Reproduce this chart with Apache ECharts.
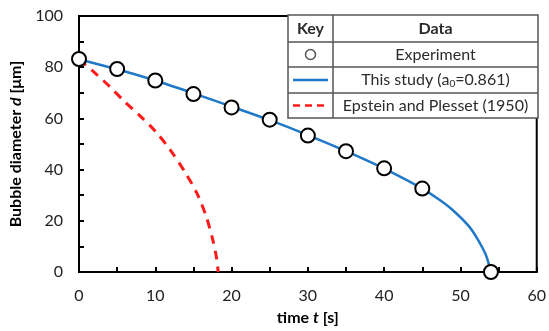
<!DOCTYPE html>
<html>
<head>
<meta charset="utf-8">
<script src="https://cdn.jsdelivr.net/npm/echarts@6/dist/echarts.min.js"></script>
<style>html,body{margin:0;padding:0;background:#fff;}#c{width:549px;height:331px;}</style>
</head>
<body>
<div id="c"></div>
<script>
// Experiment data
const expT = [0, 5, 10, 15, 20, 25, 30, 35, 40, 45, 54];
const expD = [83.2, 79.3, 74.8, 69.5, 64.3, 59.5, 53.3, 47.2, 40.5, 32.6, 0];
// This study (a0 = 0.861)
const studyT = [0, 5, 10, 15, 20, 25, 30, 35, 40, 45, 47.2, 48.9, 51.1, 52.4, 53.3, 53.8, 54];
const studyD = [83, 79.2, 74.8, 69.8, 64.6, 59.3, 53.5, 47.2, 40.4, 32.6, 28.3, 24.4, 17.9, 12.1, 6.9, 2.3, 0];
// Epstein and Plesset (1950)
const epT = [0, 2, 4, 6, 8, 10, 12, 14, 15.5, 16.7, 17.5, 18, 18.25];
const epD = [83, 78, 72.5, 66.5, 61, 55, 47.5, 38.5, 30.5, 21.5, 13, 6, 0];
// Legend table texts
const keyHeader = 'Key';
const dataHeader = 'Data';
const legendLabels = ['Experiment', 'This study', 'Epstein and Plesset (1950)'];

const pairs = (xs, ys) => xs.map((x, i) => [x, ys[i]]);
const FONT = 'Lato';
const chart = echarts.init(document.getElementById('c'));

const tl = 288, tc = 333, tr = 538;
const rows = [15, 42, 67, 93, 118];
const lineStyle = { stroke: '#555', lineWidth: 1.5 };
const gEls = [];
gEls.push({ type: 'rect', shape: { x: tl, y: rows[0], width: tr - tl, height: rows[4] - rows[0] }, style: { fill: '#fff', stroke: '#555', lineWidth: 1.5 }, z: 10 });
gEls.push({ type: 'line', shape: { x1: tc, y1: rows[0], x2: tc, y2: rows[4] }, style: lineStyle, z: 11 });
for (let i = 1; i < 4; i++) gEls.push({ type: 'line', shape: { x1: tl, y1: rows[i], x2: tr, y2: rows[i] }, style: lineStyle, z: 11 });
const kc = (tl + tc) / 2, dc = (tc + tr) / 2;
const rc = i => (rows[i] + rows[i + 1]) / 2;
const TC = '#2b2b2b';
const tStyle = (txt, bold) => ({ text: txt, fill: TC, font: (bold ? 'bold ' : '') + '16px ' + FONT, align: 'center', verticalAlign: 'middle' });
gEls.push({ type: 'text', x: kc, y: rc(0), style: tStyle(keyHeader, true), z: 12 });
gEls.push({ type: 'text', x: dc, y: rc(0), style: tStyle(dataHeader, true), z: 12 });
gEls.push({ type: 'text', x: dc, y: rc(1), style: tStyle(legendLabels[0]), z: 12 });
gEls.push({ type: 'text', x: dc, y: rc(2), style: {
  text: '{n|' + legendLabels[1] + ' (}{a|a}{s|0}{n|=0.861)}',
  align: 'center', verticalAlign: 'middle', fill: TC,
  rich: { n: { font: '16px ' + FONT, fill: TC }, a: { font: '16px ' + FONT, fill: TC }, s: { font: '10px ' + FONT, fill: TC, padding: [7, 0, 0, 0] } }
}, z: 12 });
gEls.push({ type: 'text', x: dc, y: rc(3), style: tStyle(legendLabels[2]), z: 12 });
gEls.push({ type: 'circle', shape: { cx: kc, cy: rc(1), r: 5 }, style: { fill: '#fff', stroke: '#555', lineWidth: 1.5 }, z: 12 });
gEls.push({ type: 'line', shape: { x1: tl + 5, y1: rc(2), x2: tc - 5, y2: rc(2) }, style: { stroke: '#1f78c8', lineWidth: 2.5 }, z: 12 });
gEls.push({ type: 'line', shape: { x1: tl + 5, y1: rc(3), x2: tc - 5, y2: rc(3) }, style: { stroke: '#ff1a1a', lineWidth: 2.5, lineDash: [7, 5] }, z: 12 });

chart.setOption({
  animation: false,
  grid: { left: 79, right: 11, top: 16, bottom: 58, show: true, borderColor: '#000', borderWidth: 2, backgroundColor: 'transparent' },
  xAxis: {
    type: 'value', min: 0, max: 60, interval: 10,
    name: '{b|time }{i|t}{b| [s]}', nameLocation: 'middle', nameGap: 38,
    nameTextStyle: { rich: { b: { fontFamily: FONT, fontWeight: 'bold', fontSize: 16, color: '#000' }, i: { fontFamily: FONT, fontWeight: 'bold', fontStyle: 'italic', fontSize: 16, color: '#000' } } },
    axisLine: { onZero: false, lineStyle: { color: '#000', width: 2 } },
    axisTick: { inside: true, length: 5, lineStyle: { color: '#000', width: 2 } },
    minorTick: { show: true, splitNumber: 2, length: 5, lineStyle: { color: '#000', width: 2 } },
    axisLabel: { fontFamily: FONT, fontSize: 16, color: '#222', margin: 16 },
    splitLine: { show: false }
  },
  yAxis: {
    type: 'value', min: 0, max: 100, interval: 20,
    name: '{b|Bubble diameter }{i|d}{b| [μm]}', nameLocation: 'middle', nameGap: 48, nameRotate: 90,
    nameTextStyle: { rich: { b: { fontFamily: FONT, fontWeight: 'bold', fontSize: 16, color: '#000' }, i: { fontFamily: FONT, fontWeight: 'bold', fontStyle: 'italic', fontSize: 16, color: '#000' } } },
    axisLine: { onZero: false, lineStyle: { color: '#000', width: 2 } },
    axisTick: { inside: true, length: 5, lineStyle: { color: '#000', width: 2 } },
    minorTick: { show: true, splitNumber: 2, length: 5, lineStyle: { color: '#000', width: 2 } },
    axisLabel: { fontFamily: FONT, fontSize: 16, color: '#222', margin: 16 },
    splitLine: { show: false }
  },
  series: [
    { type: 'line', data: pairs(epT, epD), smooth: 0.3, showSymbol: false, lineStyle: { color: '#ff1a1a', width: 3, type: [9, 7] }, z: 2 },
    { type: 'line', data: pairs(studyT, studyD), smooth: 0.3, showSymbol: false, lineStyle: { color: '#1f78c8', width: 2.5 }, z: 3 },
    { type: 'scatter', data: pairs(expT, expD), symbol: 'circle', symbolSize: 14, clip: false, itemStyle: { color: '#ffffff', opacity: 1, borderColor: '#000', borderWidth: 2 }, z: 4 }
  ],
  graphic: gEls
});
</script>
</body>
</html>
